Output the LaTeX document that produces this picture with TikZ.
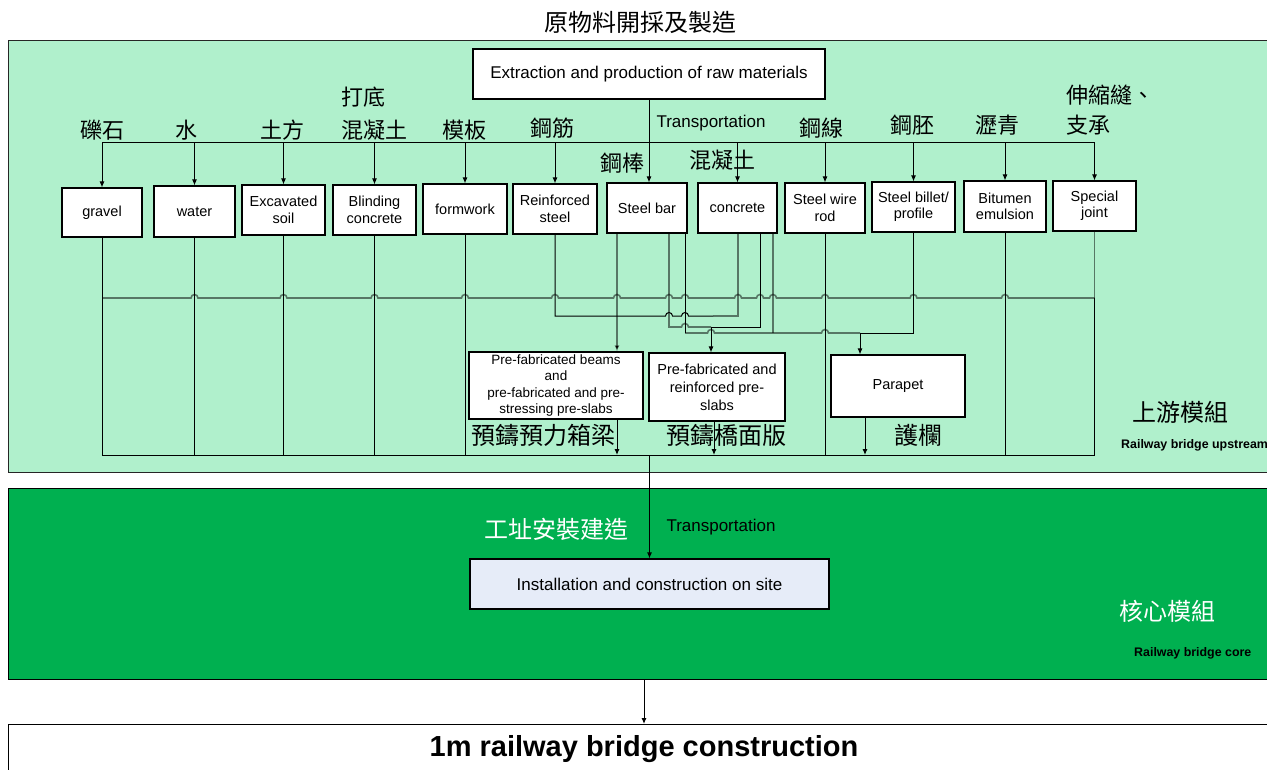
\documentclass[tikz,border=0pt]{standalone}
\usepackage{fontspec}
\setmainfont{Liberation Sans}
\newfontfamily\cjk{Noto Sans CJK TC}
\usetikzlibrary{arrows.meta}
\definecolor{upgreen}{RGB}{176,240,204}
\definecolor{coregreen}{RGB}{0,176,80}
\definecolor{instfill}{RGB}{230,236,248}
\begin{document}
\begin{tikzpicture}[x=1pt,y=-1pt,
  region/.style={draw=black!85, line width=1.2pt, inner sep=0pt, anchor=north west},
  box/.style={draw=black, line width=1.1pt, fill=white, inner sep=0pt, align=center, font=\fontsize{14.5}{16.5}\selectfont},
  ln/.style={draw=black, line width=1pt},
  gl/.style={draw=black, draw opacity=0.5, line width=1.6pt},
  arr/.style={ln, -{Latex[length=6pt,width=5pt]}},
  garr/.style={gl, -{Latex[length=6pt,width=5pt]}},
  cj/.style={font=\cjk\fontsize{22}{24}\selectfont, inner sep=0pt},
  cjb/.style={font=\cjk\fontsize{24}{26}\selectfont, inner sep=0pt},
  en/.style={font=\fontsize{17}{20}\selectfont, inner sep=0pt},
  tag/.style={font=\bfseries\fontsize{12.4}{14}\selectfont, inner sep=0pt, anchor=west},
]
\useasboundingbox (0,0) rectangle (1267,770);

% regions
\node[region, fill=upgreen, minimum width=1280pt, minimum height=432pt] (upstream) at (8,40) {};
\node[region, draw=black, fill=coregreen, minimum width=1280pt, minimum height=191pt] (core) at (8,488) {};
\node[region, draw=black, fill=white, minimum width=1280pt, minimum height=80pt] (bottom) at (8,724) {};

% level coordinates
\coordinate (yD) at (0,143);
\coordinate (yH0) at (0,298);
\coordinate (yH1) at (0,316);
\coordinate (yH2) at (0,327);
\coordinate (yH3) at (0,333);
\coordinate (yC) at (0,455);
\coordinate (x617) at (617,0);
\coordinate (x669) at (669,0);
\coordinate (x685) at (685,0);
\coordinate (x711) at (711,0);
\coordinate (x714) at (714,0);
\coordinate (x738) at (738,0);
\coordinate (x760) at (760,0);
\coordinate (x773) at (773,0);
\coordinate (x860) at (860,0);
\coordinate (x865) at (865,0);
\coordinate (x644) at (644,0);

% boxes
\node[box, minimum width=352pt, minimum height=50pt, font=\fontsize{17}{20}\selectfont] (extr) at (649,74) {Extraction and production of raw materials};
\node[box, minimum width=80pt, minimum height=49pt] (gravel) at (102,212.5) {gravel};
\node[box, minimum width=81pt, minimum height=51pt] (water) at (194.5,211.5) {water};
\node[box, minimum width=83pt, minimum height=50pt] (excav) at (283.5,210) {Excavated\\soil};
\node[box, minimum width=83pt, minimum height=50pt] (blind) at (374.5,210) {Blinding\\concrete};
\node[box, minimum width=84pt, minimum height=50pt] (formw) at (465,209) {formwork};
\node[box, minimum width=84pt, minimum height=50pt] (reinf) at (555,209) {Reinforced\\steel};
\node[box, minimum width=80pt, minimum height=50pt] (steelbar) at (647,208) {Steel bar};
\node[box, minimum width=79pt, minimum height=50pt] (concrete) at (737.5,208) {concrete};
\node[box, minimum width=80pt, minimum height=50pt] (wire) at (825,208) {Steel wire\\rod};
\node[box, minimum width=83pt, minimum height=50pt] (billet) at (913.5,207) {Steel billet/\\profile};
\node[box, minimum width=82pt, minimum height=51pt] (bitumen) at (1005,206.5) {Bitumen\\emulsion};
\node[box, minimum width=83pt, minimum height=50pt] (special) at (1094.5,206) {Special\\joint};
\node[box, minimum width=174pt, minimum height=67pt, font=\fontsize{13.5}{16.5}\selectfont] (box1) at (556,385.5) {Pre-fabricated beams\\and\\pre-fabricated and pre-\\stressing pre-slabs};
\node[box, minimum width=136pt, minimum height=68pt, font=\fontsize{14.5}{18}\selectfont] (box2) at (717,387) {Pre-fabricated and\\reinforced pre-\\slabs};
\node[box, minimum width=134pt, minimum height=62pt] (parapet) at (898,386) {Parapet};
\node[box, fill=instfill, minimum width=359pt, minimum height=50pt, font=\fontsize{17}{20}\selectfont] (install) at (649.5,584) {Installation and construction on site};

% distribution from extraction
\draw[ln] (gravel.north |- yD) -- (special.north |- yD);
\draw[arr] (extr.south) -- (extr.south |- steelbar.north);
\foreach \n in {gravel,water,excav,blind,formw,reinf,concrete,wire,billet,bitumen,special}
  \draw[arr] (\n.north |- yD) -- (\n.north);

% collector
\draw[ln] (gravel.south |- yC) -- (special.south |- yC);
\foreach \n in {gravel,water,excav,blind,formw,wire,bitumen}
  \draw[ln] (\n.south) -- (\n.south |- yC);
\draw[gl] (special.south) -- (special.south |- yH0);
\draw[ln] (special.south |- yH0) -- (special.south |- yC);

% long gray line with hops
\draw[gl] (gravel.south |- yH0)
  \foreach \x in {194.5,283.5,374.5,465,555,617,669,685,738,760,773,825,913.5,1005} { -- (\x-3.5,298) arc[start angle=180,end angle=0,radius=3.5pt] }
  -- (special.south |- yH0);

% reinforced steel
\draw[ln] (reinf.south) -- (reinf.south |- yH1)
  \foreach \x in {669,685} { -- (\x-3.5,316) arc[start angle=180,end angle=0,radius=3.5pt] }
  -- (713,316);
\draw[gl] (concrete.south -| x738) -- (x738 |- yH1) -- (713,316);

% steel bar outputs
\draw[garr] (steelbar.south -| x617) -- (box1.north -| x617);
\draw[gl] (steelbar.south -| x669) -- (x669 |- yH2) -- (681.5,327) arc[start angle=180,end angle=0,radius=3.5pt] -- (x711 |- yH2);
\draw[ln] (steelbar.south -| x685) -- (x685 |- yH3);
\draw[gl] (x685 |- yH3) -- (707.5,333) arc[start angle=180,end angle=0,radius=3.5pt]
  -- (821.5,333) arc[start angle=180,end angle=0,radius=3.5pt] -- (x860 |- yH3);
% concrete outputs
\draw[ln] (concrete.south -| x760) -- (x760 |- yH2) -- (x711 |- yH2);
\draw[arr] (x711 |- yH2) -- (box2.north -| x711);
\draw[gl] (concrete.south -| x773) -- (x773 |- yH3);
% billet to parapet
\draw[ln] (billet.south) -- (billet.south |- yH3) -- (x860 |- yH3);
\draw[arr] (x860 |- yH3) -- (parapet.north -| x860);

% outputs to collector
\draw[arr] (box1.south -| x617) -- (x617 |- yC);
\draw[arr] (box2.south -| x714) -- (x714 |- yC);
\draw[arr] (parapet.south -| x865) -- (x865 |- yC);

% to site and to final
\draw[arr] (install.north |- yC) -- (install.north);
\draw[arr] (core.south -| x644) -- (bottom.north -| x644);

% labels
\node[cjb] (t0) at (640,22) {原物料開採及製造};
\node[cj] (l1) at (102,130) {礫石};
\node[cj] (l2) at (186,130) {水};
\node[cj] (l3) at (282,130) {土方};
\node[cj, anchor=west] (l4a) at (341,97) {打底};
\node[cj, anchor=west] (l4b) at (341,130) {混凝土};
\node[cj] (l5) at (464,130) {模板};
\node[cj] (l6) at (552,128) {鋼筋};
\node[cj] (l7) at (622,163) {鋼棒};
\node[cj] (l8) at (722,160) {混凝土};
\node[cj] (l9) at (821,128) {鋼線};
\node[cj] (l10) at (912,125) {鋼胚};
\node[cj] (l11) at (997,125) {瀝青};
\node[cj, anchor=west] (l12a) at (1066,95) {伸縮縫、};
\node[cj, anchor=west] (l12b) at (1066,125) {支承};
\node[en] (tr1) at (711,123) {Transportation};
\node[cjb] (p1) at (543,435) {預鑄預力箱梁};
\node[cjb] (p2) at (726,435) {預鑄橋面版};
\node[cjb] (p3) at (918,435) {護欄};
\node[cjb] (up1) at (1180,412) {上游模組};
\node[tag] (up2) at (1121,445) {Railway bridge upstream};
\node[cjb, text=white] (c1) at (556,529) {工址安裝建造};
\node[en] (tr2) at (721,527) {Transportation};
\node[cjb, text=white] (c2) at (1167,611) {核心模組};
\node[tag] (c3) at (1134,653) {Railway bridge core};
\node[font=\bfseries\fontsize{29}{32}\selectfont, inner sep=0pt] (fin) at (644,749) {1m railway bridge construction};
\end{tikzpicture}
\end{document}
